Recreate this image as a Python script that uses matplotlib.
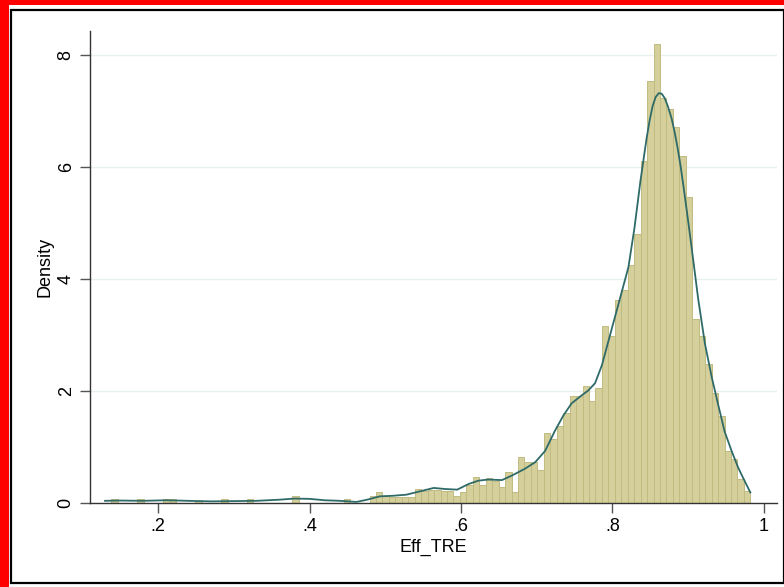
import numpy as np
import matplotlib.pyplot as plt
from matplotlib.patches import Rectangle

# histogram of Eff_TRE, 100 bins between min and max
x_min = 0.130
x_max = 0.982
n_bins = 100
density = [
    0.0, 0.06, 0.0, 0.0, 0.0, 0.06, 0.0, 0.0, 0.0, 0.06,
    0.06, 0.0, 0.0, 0.0, 0.035, 0.0, 0.0, 0.0, 0.06, 0.0,
    0.0, 0.0, 0.06, 0.0, 0.0, 0.0, 0.0, 0.0, 0.0, 0.12,
    0.0, 0.0, 0.0, 0.0, 0.0, 0.0, 0.0, 0.06, 0.0, 0.0,
    0.0, 0.12, 0.18, 0.12, 0.10, 0.10, 0.10, 0.10, 0.25, 0.20,
    0.22, 0.22, 0.20, 0.20, 0.125, 0.18, 0.32, 0.45, 0.32, 0.43,
    0.39, 0.27, 0.54, 0.18, 0.81, 0.73, 0.72, 0.58, 1.25, 1.13,
    1.37, 1.59, 1.90, 1.90, 2.08, 1.82, 2.04, 3.16, 2.98, 3.61,
    3.80, 4.24, 4.80, 6.09, 7.53, 8.19, 7.22, 7.02, 6.71, 6.18,
    5.46, 3.27, 2.98, 2.48, 1.96, 1.55, 0.92, 0.77, 0.42, 0.20,
]

# kernel density curve
kde_x = [0.130, 0.15, 0.18, 0.21, 0.24, 0.27, 0.30, 0.33, 0.36, 0.38,
         0.40, 0.42, 0.44, 0.462, 0.476, 0.493, 0.51, 0.528, 0.546, 0.564,
         0.58, 0.595, 0.61, 0.623, 0.636, 0.654, 0.667, 0.684, 0.698, 0.711,
         0.724, 0.735, 0.746, 0.759, 0.768, 0.777, 0.786, 0.794, 0.803, 0.812,
         0.821, 0.829, 0.837, 0.845, 0.849, 0.853, 0.857, 0.861, 0.865, 0.869,
         0.873, 0.878, 0.882, 0.886, 0.890, 0.894, 0.898, 0.905, 0.913, 0.922,
         0.931, 0.940, 0.948, 0.957, 0.966, 0.975, 0.982]
kde_y = [0.03, 0.035, 0.03, 0.04, 0.03, 0.02, 0.025, 0.03, 0.05, 0.07,
         0.065, 0.04, 0.03, 0.01, 0.05, 0.11, 0.12, 0.14, 0.20, 0.26,
         0.24, 0.23, 0.33, 0.39, 0.41, 0.40, 0.48, 0.60, 0.72, 0.92,
         1.28, 1.55, 1.77, 1.91, 2.00, 2.13, 2.45, 2.85, 3.30, 3.75,
         4.20, 4.90, 5.75, 6.50, 6.82, 7.08, 7.24, 7.31, 7.30, 7.22,
         7.08, 6.86, 6.62, 6.33, 6.00, 5.62, 5.22, 4.50, 3.65, 2.84,
         2.24, 1.72, 1.27, 0.93, 0.62, 0.37, 0.18]

x_ticks = [0.2, 0.4, 0.6, 0.8, 1.0]
x_labels = ['.2', '.4', '.6', '.8', '1']
y_ticks = [0, 2, 4, 6, 8]

plt.rcParams['font.family'] = ['Liberation Sans', 'DejaVu Sans']

fig = plt.figure(figsize=(7.84, 5.87), dpi=100)
fig.patch.set_facecolor('red')
W, H = 784, 587
# white page inside the red frame, then the black outline
fig.patches.append(Rectangle((9 / W, 0), (W - 9) / W, (H - 5) / H,
                             transform=fig.transFigure, facecolor='white',
                             edgecolor='none', zorder=-10))
fig.patches.append(Rectangle((11 / W, 4 / H), (W - 11) / W, (H - 14) / H,
                             transform=fig.transFigure, facecolor='none',
                             edgecolor='black', linewidth=1.6, zorder=-5))

ax = fig.add_axes([90 / W, (H - 502.5) / H, 687 / W, 471.5 / H])
ax.set_zorder(1)
ax.set_facecolor('white')

edges = np.linspace(x_min, x_max, n_bins + 1)
ax.bar(edges[:-1], density, width=np.diff(edges), align='edge',
       color='#d4cf9b', edgecolor='#c0bb80', linewidth=0.7, zorder=2)
ax.plot(kde_x, kde_y, color='#2f6a68', linewidth=1.3, zorder=3)

ax.set_xlim(0.1102, 1.0172)
ax.set_ylim(0, 8.42)
ax.set_xticks(x_ticks)
ax.set_xticklabels(x_labels)
ax.set_yticks(y_ticks)
ax.set_yticklabels([str(v) for v in y_ticks], rotation=90, va='center')

for y in y_ticks[1:]:
    ax.axhline(y, color='#e8f0f0', linewidth=1.0, zorder=1)

for side in ['top', 'right']:
    ax.spines[side].set_visible(False)
for side in ['left', 'bottom']:
    ax.spines[side].set_color('#333333')
    ax.spines[side].set_linewidth(1.0)
ax.tick_params(direction='out', length=7, width=1.0, color='#555555',
               labelsize=13, pad=4)

ax.set_xlabel('Eff_TRE', fontsize=13, labelpad=3)
ax.set_ylabel('Density', fontsize=13, labelpad=3)

fig.savefig('out.png', dpi=100, facecolor=fig.get_facecolor())
